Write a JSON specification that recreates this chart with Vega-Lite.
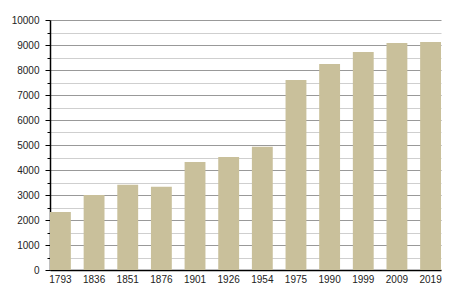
{
  "$schema": "https://vega.github.io/schema/vega-lite/v6.json",
  "autosize": "none",
  "padding": {"left": 50, "top": 20, "right": 9, "bottom": 30},
  "width": 391,
  "height": 250,
  "background": "white",
  "config": {
    "view": {"stroke": null},
    "font": "Liberation Sans"
  },
  "data": {
    "values": [
      {"year": "1793", "pop": 2320},
      {"year": "1836", "pop": 3000},
      {"year": "1851", "pop": 3410},
      {"year": "1876", "pop": 3330},
      {"year": "1901", "pop": 4320},
      {"year": "1926", "pop": 4520},
      {"year": "1954", "pop": 4930},
      {"year": "1975", "pop": 7600},
      {"year": "1990", "pop": 8240},
      {"year": "1999", "pop": 8720},
      {"year": "2009", "pop": 9080},
      {"year": "2019", "pop": 9120}
    ]
  },
  "mark": {"type": "bar", "color": "#c9c09b"},
  "encoding": {
    "x": {
      "field": "year",
      "type": "ordinal",
      "sort": null,
      "scale": {"paddingInner": 0.38, "paddingOuter": 0},
      "axis": {
        "title": null,
        "labelAngle": 0,
        "ticks": false,
        "domainColor": "#000",
        "domainWidth": 1.5,
        "labelFontSize": 10,
        "labelColor": "#222",
        "labelPadding": 4
      }
    },
    "y": {
      "field": "pop",
      "type": "quantitative",
      "scale": {"domain": [0, 10000], "nice": false},
      "axis": {
        "title": null,
        "values": [0, 500, 1000, 1500, 2000, 2500, 3000, 3500, 4000, 4500, 5000, 5500, 6000, 6500, 7000, 7500, 8000, 8500, 9000, 9500, 10000],
        "labelExpr": "datum.value % 1000 === 0 ? datum.value : ''",
        "grid": true,
        "gridColor": {"condition": {"test": "datum.value % 1000 === 0", "value": "#999999"}, "value": "#cfcfcf"},
        "gridWidth": 1,
        "tickColor": "#000",
        "tickSize": {"condition": {"test": "datum.value % 1000 === 0", "value": 5}, "value": 3},
        "domainColor": "#000",
        "domainWidth": 1.5,
        "labelFontSize": 10,
        "labelColor": "#222",
        "labelPadding": 6,
        "labelFlush": false
      }
    }
  }
}
